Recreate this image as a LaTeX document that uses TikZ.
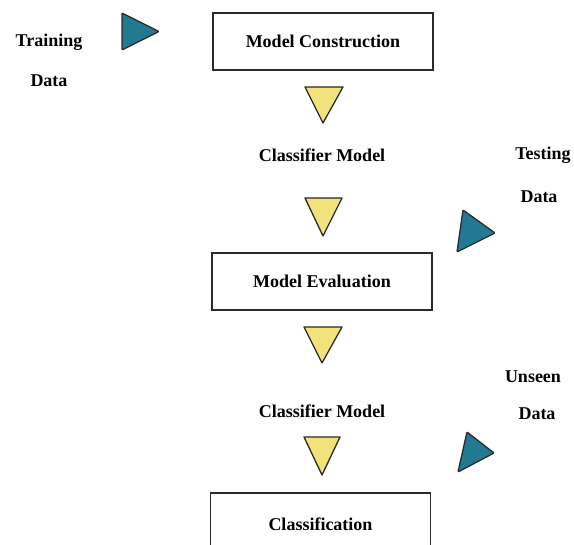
\documentclass[tikz,border=0pt]{standalone}
\usepackage{fontspec}
\setmainfont{Liberation Serif}
\definecolor{inputteal}{HTML}{217A92}
\definecolor{flowyellow}{HTML}{F2E27A}
\definecolor{inkline}{HTML}{2A2A2A}
\begin{document}
\begin{tikzpicture}[x=1pt,y=-1pt,
  lbl/.style={font=\fontsize{18}{21}\selectfont\bfseries, text=black, inner sep=0pt},
  stagebox/.style={draw=inkline, line width=1.8pt, minimum width=220pt, minimum height=57pt, inner sep=0pt, font=\fontsize{18}{21}\selectfont\bfseries},
  downtri/.style={fill=flowyellow, draw=inkline, line width=1.3pt, line join=round},
  sidetri/.style={fill=inputteal, draw=inkline, line width=1.3pt, line join=round, rounded corners=0.8pt}
]
\useasboundingbox (0,0) rectangle (574,545);
\fill[white] (0,0) rectangle (574,545);

% stages
\node[stagebox] (construct) at (323,41.5) {Model Construction};
\node[stagebox] (evaluate) at (322,281.5) {Model Evaluation};
\node[stagebox, minimum height=62pt] (classify) at (320.5,524) {Classification};

% data labels
\node[lbl] (train1) at (49,42) {Training};
\node[lbl] (train2) at (49,81) {Data};
\node[lbl] (test1) at (543,155) {Testing};
\node[lbl] (test2) at (539,197) {Data};
\node[lbl] (unseen1) at (533,377) {Unseen};
\node[lbl] (unseen2) at (537,414) {Data};

% intermediate model labels
\node[lbl] (cm1) at (322,155) {Classifier Model};
\node[lbl] (cm2) at (322,411) {Classifier Model};

% data inputs
\filldraw[sidetri] (122,13) -- (159,31.5) -- (122,50) -- cycle;
\filldraw[sidetri] (463,210) -- (495,233) -- (457,252) -- cycle;
\filldraw[sidetri] (467,432) -- (494,453) -- (458,472) -- cycle;

% flow markers
\filldraw[downtri] (305,87) -- (343,87) -- (323,123) -- cycle;
\filldraw[downtri] (305,198) -- (342,198) -- (323,236) -- cycle;
\filldraw[downtri] (304,327) -- (342,327) -- (322,363) -- cycle;
\filldraw[downtri] (304,437) -- (340,437) -- (322,475) -- cycle;
\end{tikzpicture}
\end{document}
